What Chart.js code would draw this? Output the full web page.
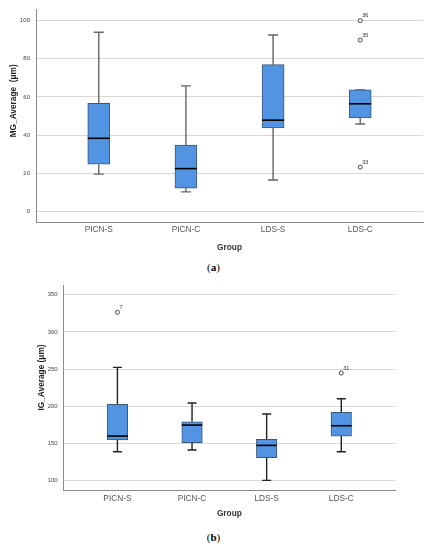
<!DOCTYPE html>
<html>
<head>
<meta charset="utf-8">
<script src="https://cdn.jsdelivr.net/npm/chart.js@4.4.1/dist/chart.umd.min.js"></script>
<style>
  body { margin: 0; background: #fff; }
  .wrap { position: relative; width: 430px; height: 550px; }
  canvas { position: absolute; left: 0; }
  #chartA { top: 0; }
  #chartB { top: 270px; }
  .cap { position: absolute; left: 0; width: 427px; text-align: center;
         font: 11px "Liberation Serif", serif; color: #000; line-height: 13px; }
</style>
</head>
<body>
<div class="wrap">
  <canvas id="chartA" width="430" height="258"></canvas>
  <div class="cap" style="top: 261px">(<b>a</b>)</div>
  <canvas id="chartB" width="430" height="258"></canvas>
  <div class="cap" style="top: 531px">(<b>b</b>)</div>
</div>
<script>
"use strict";

const groups = ["PICN-S", "PICN-C", "LDS-S", "LDS-C"];

// (a) MG_Average
const mgMin = [19.5, 10.2, 16.4, 45.8];
const mgQ1 = [24.7, 12.2, 43.7, 49.0];
const mgMedian = [38.3, 22.4, 47.8, 56.4];
const mgQ3 = [56.6, 34.7, 76.9, 63.7];
const mgMax = [93.9, 65.8, 92.5, 63.7];
const mgOutGroup = [3, 3, 3];
const mgOutValue = [100, 89.8, 23.2];
const mgOutLabel = ["36", "35", "33"];
const mgTicks = [0, 20, 40, 60, 80, 100];

// (b) IG_Average
const igMin = [139.0, 141.2, 100.5, 139.0];
const igQ1 = [154.7, 151.1, 131.0, 160.0];
const igMedian = [160.0, 174.8, 147.5, 173.9];
const igQ3 = [202.6, 179.3, 155.6, 191.9];
const igMax = [252.3, 204.4, 189.6, 210.2];
const igOutGroup = [0, 3];
const igOutValue = [326.3, 244.7];
const igOutLabel = ["7", "31"];
const igTicks = [100, 150, 200, 250, 300, 350];

const FONT = "'Liberation Sans', Arial, sans-serif";
const nb = (n) => "\u00a0".repeat(n);

const boxParts = function (set) {
  return {
    id: "boxParts",
    beforeDatasetsDraw(chart) {
      const x = chart.scales.x;
      const y = chart.scales.y;
      const ctx = chart.ctx;
      ctx.save();
      ctx.strokeStyle = set.whisker;
      ctx.lineWidth = 1.4;
      set.min.forEach((_, i) => {
        const cx = x.getPixelForValue(i);
        const ends = [
          [set.q3[i], set.max[i]],
          [set.q1[i], set.min[i]],
        ];
        ends.forEach(([from, to]) => {
          const y0 = y.getPixelForValue(from);
          const y1 = y.getPixelForValue(to);
          ctx.beginPath();
          ctx.moveTo(cx, y0);
          ctx.lineTo(cx, y1);
          ctx.moveTo(cx - set.cap, y1);
          ctx.lineTo(cx + set.cap, y1);
          ctx.stroke();
        });
      });
      ctx.restore();
    },
    afterDatasetsDraw(chart) {
      const y = chart.scales.y;
      const ctx = chart.ctx;
      const bars = chart.getDatasetMeta(0).data;
      ctx.save();
      ctx.strokeStyle = "#000";
      ctx.lineWidth = 1.6;
      bars.forEach((bar, i) => {
        const ym = y.getPixelForValue(set.median[i]);
        ctx.beginPath();
        ctx.moveTo(bar.x - bar.width / 2, ym);
        ctx.lineTo(bar.x + bar.width / 2, ym);
        ctx.stroke();
      });
      ctx.fillStyle = "#333";
      ctx.font = "5.5px " + FONT;
      ctx.textBaseline = "middle";
      chart.getDatasetMeta(1).data.forEach((p, k) => {
        ctx.fillText(set.outLabel[k], p.x + 2, p.y - 5);
      });
      ctx.restore();
    },
  };
};

const makeBoxChart = function (canvas, set) {
  return new Chart(canvas.getContext("2d"), {
    type: "bar",
    data: {
      datasets: [
        {
          type: "bar",
          data: set.q1.map((q, i) => ({ x: i, y: [q, set.q3[i]] })),
          backgroundColor: "#5294e2",
          borderColor: "#3c5878",
          borderWidth: 1,
          borderSkipped: false,
          barThickness: set.boxWidth,
        },
        {
          type: "scatter",
          data: set.outGroup.map((g, k) => ({ x: g, y: set.outValue[k] })),
          pointRadius: 2,
          pointBorderWidth: 0.9,
          pointBorderColor: "#333",
          pointBackgroundColor: "#fff",
        },
      ],
    },
    options: {
      responsive: false,
      animation: false,
      layout: { padding: set.padding },
      plugins: { legend: { display: false }, tooltip: { enabled: false } },
      scales: {
        x: {
          type: "linear",
          min: -0.72,
          max: 3.72,
          offset: false,
          afterBuildTicks: (scale) => {
            scale.ticks = groups.map((_, i) => ({ value: i }));
          },
          afterFit: (scale) => {
            scale.height = set.xHeight;
          },
          grid: { display: false, drawTicks: false },
          border: { display: true, color: "#8a8a8a", width: 1 },
          ticks: {
            callback: (v) => groups[v],
            autoSkip: false,
            maxRotation: 0,
            padding: 3,
            color: "#555",
            font: { family: FONT, size: 8.3 },
          },
          title: {
            display: true,
            text: "Group",
            color: "#333",
            font: { family: FONT, size: 8.3, weight: "bold" },
            padding: { top: 0, bottom: set.xTitlePad },
          },
        },
        y: {
          min: set.yMin,
          max: set.yMax,
          afterBuildTicks: (scale) => {
            scale.ticks = set.ticks.map((v) => ({ value: v }));
          },
          afterFit: (scale) => {
            scale.width = set.yWidth;
          },
          grid: { color: "#d8d8d8", lineWidth: 1, drawTicks: false },
          border: { display: true, color: "#8a8a8a", width: 1 },
          ticks: {
            padding: 6,
            color: "#444",
            font: { family: FONT, size: 6 },
          },
          title: {
            display: true,
            text: set.yTitle,
            color: "#222",
            font: { family: FONT, size: 8.3, weight: "bold" },
            padding: { top: set.yTitlePad, bottom: 0 },
          },
        },
      },
    },
    plugins: [boxParts(set)],
  });
};

makeBoxChart(document.getElementById("chartA"), {
  min: mgMin,
  q1: mgQ1,
  median: mgMedian,
  q3: mgQ3,
  max: mgMax,
  outGroup: mgOutGroup,
  outValue: mgOutValue,
  outLabel: mgOutLabel,
  ticks: mgTicks,
  yMin: -5.6,
  yMax: 105.8,
  yTitle: nb(13) + "MG_Average  (μm)",
  yWidth: 36,
  yTitlePad: 8.3,
  xHeight: 36,
  xTitlePad: 5.5,
  padding: { top: 3.3, right: 7, left: 0, bottom: 0 },
  boxWidth: 22,
  cap: 5,
  whisker: "#666",
});

makeBoxChart(document.getElementById("chartB"), {
  min: igMin,
  q1: igQ1,
  median: igMedian,
  q3: igQ3,
  max: igMax,
  outGroup: igOutGroup,
  outValue: igOutValue,
  outLabel: igOutLabel,
  ticks: igTicks,
  yMin: 86.6,
  yMax: 363,
  yTitle: nb(9) + "IG_Average (μm)",
  yWidth: 63.7,
  yTitlePad: 36.7,
  xHeight: 37.3,
  xTitlePad: 9,
  padding: { top: 15, right: 35, left: 0, bottom: 0 },
  boxWidth: 20.5,
  cap: 4.5,
  whisker: "#222",
});
</script>
</body>
</html>
